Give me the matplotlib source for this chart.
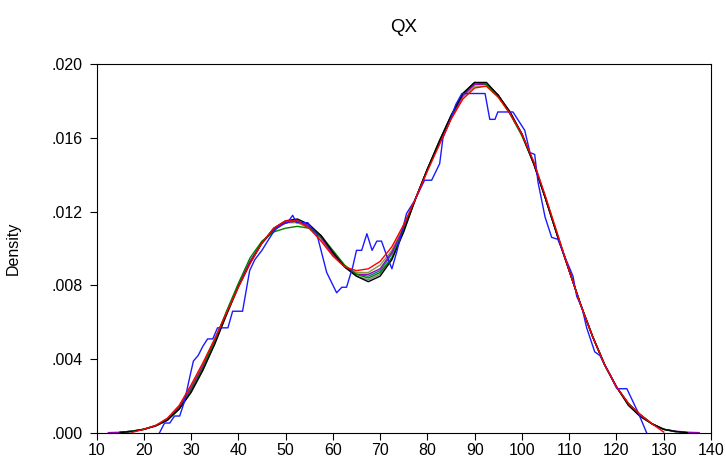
"""Kernel density estimates of QX at several bandwidths."""

import numpy as np
import matplotlib
matplotlib.use("Agg")
import matplotlib.pyplot as plt
from matplotlib.ticker import FixedLocator, FixedFormatter

plt.rcParams["font.family"] = ["Liberation Sans", "DejaVu Sans"]

nan = np.nan

# ── Data ──────────────────────────────────────────────────────────────────────

x_grid = [12.5, 15, 17.5, 20, 22.5, 25, 27.5, 30, 32.5, 35,
          37.5, 40, 42.5, 45, 47.5, 50, 52.5, 55, 57.5, 60,
          62.5, 65, 67.5, 70, 72.5, 75, 77.5, 80, 82.5, 85,
          87.5, 90, 92.5, 95, 97.5, 100, 102.5, 105, 107.5, 110,
          112.5, 115, 117.5, 120, 122.5, 125, 127.5, 130, 132.5, 135,
          137.5]

dens_black = [nan, 0.00003, 0.00008, 0.0002, 0.00038, 0.0007, 0.0013, 0.0022, 0.0034, 0.0048,
              0.0064, 0.0079, 0.0092, 0.0103, 0.0111, 0.0115, 0.0116, 0.0113, 0.0107, 0.0098,
              0.0090, 0.0085, 0.0082, 0.0085, 0.0094, 0.0109, 0.0127, 0.0143, 0.0158, 0.0172,
              0.0184, 0.0190, 0.0190, 0.0183, 0.0174, 0.0162, 0.0146, 0.0127, 0.0107, 0.0088,
              0.0069, 0.0052, 0.0037, 0.0025, 0.0015, 0.0009, 0.0005, 0.0002, 0.00008, 0.00002,
              nan]

dens_green = [nan, 0.00004, 0.0001, 0.0002, 0.0004, 0.0007, 0.0013, 0.0023, 0.0035, 0.0050,
              0.0066, 0.0081, 0.0095, 0.0104, 0.0109, 0.0111, 0.0112, 0.0111, 0.0107, 0.0099,
              0.0091, 0.0086, 0.0084, 0.0087, 0.0095, 0.0110, 0.0127, 0.0143, 0.0158, 0.0172,
              0.0184, 0.0190, 0.0189, 0.0183, 0.0173, 0.0161, 0.0146, 0.0127, 0.0107, 0.0088,
              0.0069, 0.0052, 0.0037, 0.0025, 0.0016, 0.0010, 0.0005, 0.0002, 0.00008, nan,
              nan]

dens_gray = [nan, 0.00003, 0.00008, 0.0002, 0.00038, 0.0007, 0.0013, 0.0022, 0.0034, 0.0049,
             0.0065, 0.0080, 0.0093, 0.0103, 0.0110, 0.0114, 0.0115, 0.0112, 0.0107, 0.0098,
             0.0090, 0.0085, 0.0083, 0.0086, 0.0095, 0.0110, 0.0127, 0.0143, 0.0158, 0.0172,
             0.0184, 0.0190, 0.0189, 0.0183, 0.0174, 0.0162, 0.0146, 0.0127, 0.0107, 0.0088,
             0.0069, 0.0052, 0.0037, 0.0025, 0.0016, 0.0009, 0.0005, 0.0002, 0.00008, 0.00002,
             nan]

dens_purple = [0.00002, 0.00004, 0.0001, 0.0002, 0.0004, 0.0007, 0.0014, 0.0024, 0.0036, 0.0050,
               0.0065, 0.0080, 0.0093, 0.0103, 0.0110, 0.0114, 0.0115, 0.0112, 0.0106, 0.0097,
               0.0090, 0.0086, 0.0086, 0.0089, 0.0098, 0.0111, 0.0127, 0.0143, 0.0157, 0.0171,
               0.0183, 0.0189, 0.0189, 0.0183, 0.0173, 0.0162, 0.0146, 0.0127, 0.0107, 0.0088,
               0.0069, 0.0052, 0.0037, 0.0025, 0.0016, 0.0010, 0.0005, 0.0002, 0.0001, 0.00004,
               0.00002]

dens_teal = [nan, 0.00003, 0.0001, 0.0002, 0.0004, 0.0007, 0.0014, 0.0024, 0.0036, 0.0050,
             0.0065, 0.0080, 0.0093, 0.0103, 0.0110, 0.0114, 0.0115, 0.0112, 0.0106, 0.0097,
             0.0090, 0.0086, 0.0085, 0.0088, 0.0097, 0.0111, 0.0127, 0.0143, 0.0157, 0.0171,
             0.0183, 0.0189, 0.0189, 0.0183, 0.0173, 0.0162, 0.0146, 0.0127, 0.0107, 0.0088,
             0.0069, 0.0052, 0.0037, 0.0025, 0.0016, 0.0010, 0.0005, 0.0002, 0.00008, 0.00002,
             nan]

dens_olive = [nan, 0.00003, 0.0001, 0.0002, 0.0004, 0.0008, 0.0014, 0.0025, 0.0037, 0.0051,
              0.0065, 0.0080, 0.0093, 0.0103, 0.0110, 0.0114, 0.0114, 0.0111, 0.0105, 0.0096,
              0.0090, 0.0087, 0.0087, 0.0091, 0.0099, 0.0112, 0.0127, 0.0142, 0.0157, 0.0170,
              0.0182, 0.0188, 0.0188, 0.0182, 0.0173, 0.0162, 0.0147, 0.0128, 0.0108, 0.0088,
              0.0069, 0.0052, 0.0037, 0.0025, 0.0016, 0.0010, 0.0005, 0.0002, 0.00006, nan,
              nan]

dens_red = [nan, nan, 0.00003, 0.0002, 0.0004, 0.0008, 0.0015, 0.0026, 0.0038, 0.0051,
            0.0065, 0.0079, 0.0092, 0.0103, 0.0111, 0.0115, 0.0115, 0.0111, 0.0104, 0.0096,
            0.0090, 0.0088, 0.0089, 0.0093, 0.0101, 0.0113, 0.0127, 0.0142, 0.0156, 0.0170,
            0.0181, 0.0187, 0.0188, 0.0182, 0.0173, 0.0162, 0.0147, 0.0128, 0.0108, 0.0088,
            0.0069, 0.0052, 0.0037, 0.0025, 0.0016, 0.0010, 0.0005, 0.00005, nan, nan,
            nan]

# narrow-bandwidth estimate, traced vertex by vertex
blue_x = [23.3, 24.4, 25.5, 26.5, 27.6, 28.6, 29.7, 30.5, 31.5, 32.5,
          33.5, 34.6, 35.6, 37.8, 38.8, 40.9, 42.4, 43.5, 45.0, 46.2,
          47.2, 48.1, 49.0, 50.4, 51.5, 52.3, 54.7, 55.8, 56.6, 57.6,
          58.7, 60.8, 61.9, 62.9, 64.2, 65.0, 66.1, 67.2, 68.3, 69.3,
          70.3, 71.4, 72.5, 73.5, 74.6, 75.6, 77.3, 79.4, 80.9, 82.6,
          83.3, 84.6, 86.0, 87.3, 92.2, 93.2, 94.3, 94.9, 98.1, 100.6,
          101.7, 102.7, 103.4, 104.9, 106.3, 107.6, 109.0, 110.8, 111.6, 112.7,
          113.7, 115.4, 116.5, 118.3, 120.1, 122.2, 124.6, 126.4]
blue_y = [0.0, 0.00054, 0.00054, 0.00092, 0.00092, 0.0017, 0.0030, 0.0039, 0.0042, 0.0047,
          0.0051, 0.0051, 0.0057, 0.0057, 0.0066, 0.0066, 0.0088, 0.0094, 0.0099, 0.0104,
          0.0108, 0.0111, 0.0113, 0.0114, 0.0118, 0.0114, 0.0114, 0.0110, 0.0108, 0.0098,
          0.0087, 0.0076, 0.0079, 0.0079, 0.0090, 0.0099, 0.0099, 0.0108, 0.0099, 0.0104,
          0.0104, 0.0096, 0.0089, 0.0098, 0.0109, 0.0119, 0.0126, 0.0137, 0.0137, 0.0146,
          0.0160, 0.0168, 0.0178, 0.0184, 0.0184, 0.0170, 0.0170, 0.0174, 0.0174, 0.0164,
          0.0152, 0.0151, 0.0136, 0.0117, 0.0106, 0.0105, 0.0096, 0.0085, 0.0074, 0.0068,
          0.0057, 0.0044, 0.0042, 0.0033, 0.0024, 0.0024, 0.0011, 0.0]

x_ticks = [10, 20, 30, 40, 50, 60, 70, 80, 90, 100, 110, 120, 130, 140]
y_ticks = [0.0, 0.004, 0.008, 0.012, 0.016, 0.020]
y_tick_labels = [".000", ".004", ".008", ".012", ".016", ".020"]

# ── Plot ──────────────────────────────────────────────────────────────────────

fig = plt.figure(figsize=(7.26, 4.61), dpi=100)
ax = fig.add_axes([96.5 / 726, 1 - 433 / 461, 614.5 / 726, 369 / 461])

smooth = [
    (dens_gray,   "#808080"),
    (dens_olive,  "#7f9f3f"),
    (dens_teal,   "#008080"),
    (dens_purple, "#a000c0"),
    (dens_green,  "#008000"),
    (dens_black,  "#000000"),
]
for dens, col in smooth:
    ax.plot(x_grid, dens, color=col, lw=1.0)

ax.plot(blue_x, blue_y, color="#1a1aff", lw=1.0)
ax.plot(x_grid, dens_red, color="#ff0000", lw=1.0)

ax.set_xlim(10, 140)
ax.set_ylim(0, 0.02)
ax.xaxis.set_major_locator(FixedLocator(x_ticks))
ax.yaxis.set_major_locator(FixedLocator(y_ticks))
ax.yaxis.set_major_formatter(FixedFormatter(y_tick_labels))
ax.tick_params(direction="out", length=5, width=0.8, labelsize=11.5,
               top=False, right=False)
ax.tick_params(axis="x", pad=2)
ax.tick_params(axis="y", pad=5)
for sp in ax.spines.values():
    sp.set_linewidth(0.8)

ax.set_ylabel("Density", fontsize=11.5)
ax.yaxis.set_label_coords(-0.124, 0.5)
ax.set_title("QX", fontsize=13.5, pad=23)

fig.savefig("out.png", dpi=100)
plt.close(fig)
